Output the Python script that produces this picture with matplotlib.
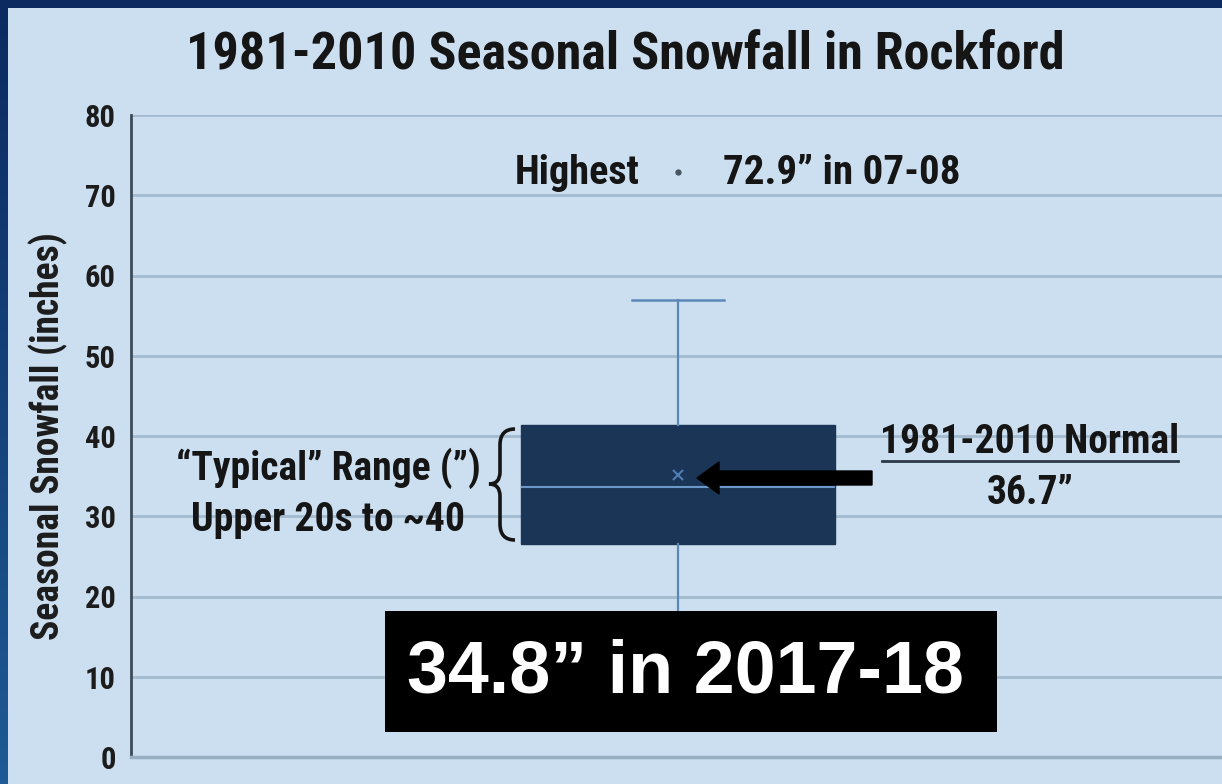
import matplotlib
matplotlib.use("Agg")
import matplotlib.pyplot as plt
import numpy as np
from matplotlib.patches import Rectangle, FancyArrow, PathPatch
from matplotlib.path import Path

# Seasonal snowfall summary (inches), 1981-2010, Rockford
box_q1 = 26.6
box_median = 33.7
box_q3 = 41.4
box_mean = 35.1
whisker_low = 13.0
whisker_high = 56.9
highest = 72.9
highest_season = "07-08"
normal = 36.7
current = 34.8
current_season = "2017-18"
yticks = [0, 10, 20, 30, 40, 50, 60, 70, 80]

W, H = 1222, 784
FONT = ["Roboto Condensed", "Liberation Sans Narrow", "Roboto", "DejaVu Sans"]
plt.rcParams["font.family"] = FONT
plt.rcParams["font.weight"] = "bold"

BG = "#CCDFF0"
INK = "#151515"
fig = plt.figure(figsize=(W / 100, H / 100), dpi=100, facecolor=BG)


def fx(px):
    return px / W


def fy(py):
    return 1 - py / H


def inch(px, py):
    return px / 100, (H - py) / 100


# slide frame: dark band along the top and left edges
top = fig.add_axes([0, fy(8), 1, 8 / H])
top.set_axis_off()
top.add_patch(Rectangle((0, 0), 1, 1, color="#0C2A60", transform=top.transAxes))
left = fig.add_axes([0, 0, 8 / W, 1])
left.set_axis_off()
grad = np.linspace(0, 1, 256).reshape(-1, 1)
cmap = matplotlib.colors.LinearSegmentedColormap.from_list("edge", ["#0C2A60", "#1E5A94"])
left.imshow(grad, aspect="auto", cmap=cmap, extent=[0, 1, 0, 1], origin="upper")

ax = fig.add_axes([fx(131), fy(757), (1225 - 131) / W, (757 - 115) / H])
ax.set_facecolor(BG)

ax.yaxis.grid(True, color="#A3BACF", linewidth=2.0)
ax.set_axisbelow(True)
for s in ["top", "right"]:
    ax.spines[s].set_visible(False)
ax.spines["left"].set_color("#3E4A58")
ax.spines["left"].set_linewidth(2.0)
ax.spines["bottom"].set_color("#98AEC3")
ax.spines["bottom"].set_linewidth(2.5)

stats = [dict(med=box_median, q1=box_q1, q3=box_q3, whislo=whisker_low,
              whishi=whisker_high, mean=box_mean, fliers=[highest])]
ax.bxp(stats, positions=[1], widths=0.287, capwidths=0.084,
       showmeans=True, meanline=False, patch_artist=True,
       boxprops=dict(facecolor="#1A3556", edgecolor="#1A3556", linewidth=1),
       medianprops=dict(color="#6C98C9", linewidth=1.5),
       whiskerprops=dict(color="#5C87B7", linewidth=1.6),
       capprops=dict(color="#5C87B7", linewidth=1.8),
       meanprops=dict(marker="x", markersize=7, markeredgecolor="#4E7EB3",
                      markeredgewidth=1.5),
       flierprops=dict(marker="o", markersize=3.5, markerfacecolor="#4A5460",
                       markeredgecolor="#4A5460"))

ax.set_xlim(0.5, 1.5)
ax.set_ylim(0, 80)
ax.set_xticks([])
ax.set_yticks(yticks)
ax.tick_params(axis="y", length=0, pad=11, labelsize=22, labelcolor="#1C1C1C")
for lab in ax.get_yticklabels():
    lab.set_fontweight("bold")

fig.text(fx(625), fy(55), "1981-2010 Seasonal Snowfall in Rockford",
         ha="center", va="center", fontsize=37.5, fontweight="bold", color=INK)
fig.text(fx(48), fy(436), "Seasonal Snowfall (inches)", rotation=90,
         ha="center", va="center", fontsize=27, fontweight="bold", color="#1C1C1C")

# highest season
fig.text(fx(640), fy(173), "Highest", ha="right", va="center",
         fontsize=29, fontweight="bold", color=INK)
fig.text(fx(723), fy(173), f"{highest}\u201d in {highest_season}", ha="left", va="center",
         fontsize=29.5, fontweight="bold", color=INK)

# typical range note with brace
fig.text(fx(328), fy(468), "\u201cTypical\u201d Range (\u201d)", ha="center", va="center",
         fontsize=28.5, fontweight="bold", color=INK)
fig.text(fx(328), fy(520), "Upper 20s to ~40", ha="center", va="center",
         fontsize=28.5, fontweight="bold", color=INK)
brace_px = [(515, 429), (500, 429), (500, 445), (500, 472), (500, 484), (489, 484),
            (500, 484), (500, 496), (500, 524), (500, 540), (515, 540)]
codes = [Path.MOVETO, Path.CURVE3, Path.CURVE3, Path.LINETO, Path.CURVE3, Path.CURVE3,
         Path.CURVE3, Path.CURVE3, Path.LINETO, Path.CURVE3, Path.CURVE3]
brace = Path([inch(*p) for p in brace_px], codes)
fig.patches.append(PathPatch(brace, transform=fig.dpi_scale_trans, fill=False,
                             edgecolor=INK, linewidth=2.6))

# normal annotation and arrow
fig.text(fx(1030), fy(442), "1981-2010 Normal", ha="center", va="center",
         fontsize=28.5, fontweight="bold", color=INK)
fig.add_artist(plt.Line2D([fx(882), fx(1178)], [fy(461), fy(461)],
                          color="#2B3848", linewidth=2))
fig.text(fx(1030), fy(493), f"{normal}\u201d", ha="center", va="center",
         fontsize=28.5, fontweight="bold", color=INK)
x0, y0 = inch(872, 478)
x1, _ = inch(697, 478)
fig.patches.append(FancyArrow(x0, y0, x1 - x0, 0, width=0.14, head_width=0.32,
                              head_length=0.22, length_includes_head=True,
                              color="black", transform=fig.dpi_scale_trans))

# current season banner
fig.patches.append(Rectangle((fx(385), fy(732)), fx(997 - 385), (732 - 611) / H,
                             facecolor="black", edgecolor="none",
                             transform=fig.transFigure))
fig.text(fx(685), fy(673), f"{current}\u201d in {current_season}", ha="center",
         va="center", fontsize=53, fontweight="bold", color="white",
         family=["Liberation Sans", "DejaVu Sans"])

fig.savefig("out.png", dpi=100, facecolor=BG)
